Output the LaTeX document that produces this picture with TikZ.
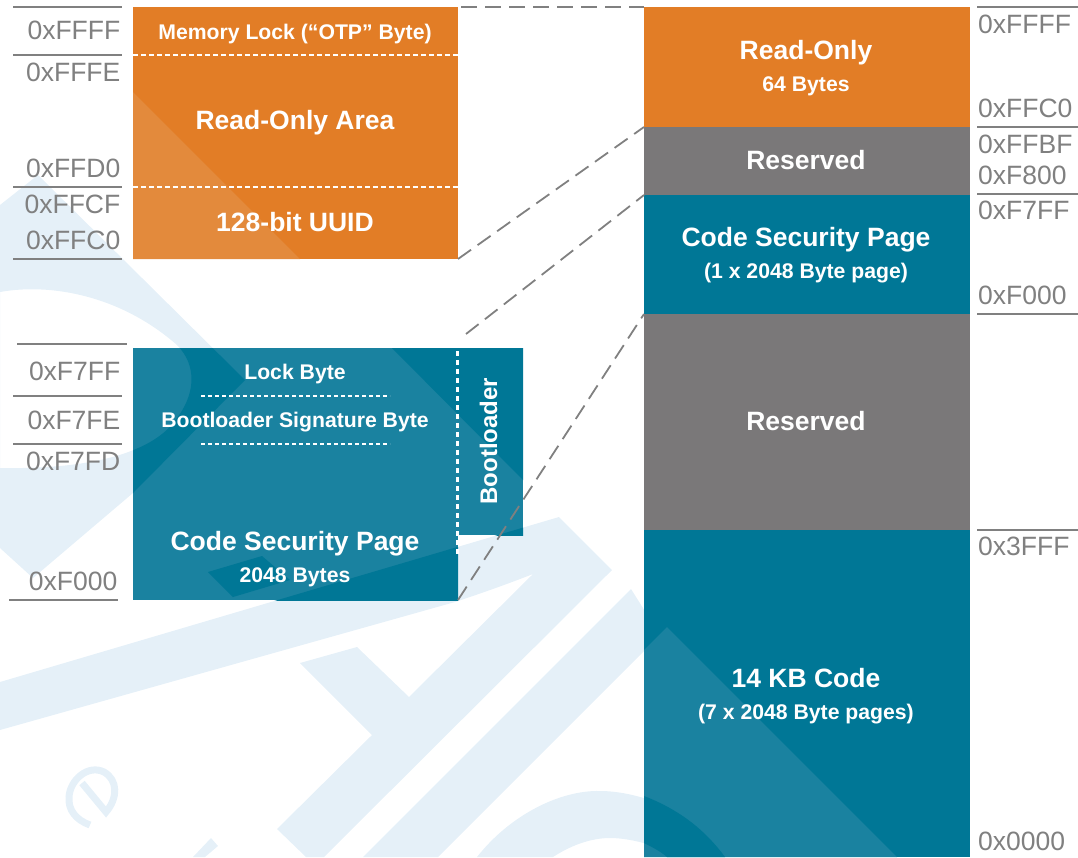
\documentclass[tikz,border=0pt]{standalone}
\usepackage{fontspec}
\setmainfont{Liberation Sans}
\definecolor{wm}{HTML}{E5F0F8}
\definecolor{org}{HTML}{E27D26}
\definecolor{orgl}{HTML}{E38A3C}
\definecolor{teal}{HTML}{007796}
\definecolor{teall}{HTML}{1A82A0}
\definecolor{gry}{HTML}{7A7879}
\definecolor{txg}{HTML}{808080}
\newcommand{\wmA}{(0,205) -- (38,175) -- (245,380) -- (133,493) -- (33,578) -- (0,548) -- cycle
  (0,292) .. controls (50,283) and (120,295) .. (177,345) .. controls (197,365) and (197,395) .. (173,423) .. controls (160,440) and (120,470) .. (0,468) -- cycle}
\newcommand{\wmB}{(0,682) -- (559,517) -- (612,570) -- (324,857) -- (306,857) -- (277,829) -- (372,735) -- (300,663) -- (357,647) -- (409,697) -- (533,574) .. controls (500,587) and (470,597) .. (455,602) -- (0,730) -- cycle}
\tikzset{
  x=1pt,y=-1pt,
  region/.style={inner sep=0pt,outer sep=0pt,minimum width=#1,draw=none},
  big/.style={font=\fontsize{26.5}{30}\selectfont\bfseries,text=white,inner sep=0pt,anchor=base},
  small/.style={font=\fontsize{21.2}{25}\selectfont\bfseries,text=white,inner sep=0pt,anchor=base},
  addrl/.style={font=\fontsize{26.5}{30}\selectfont,text=txg,inner sep=0pt,anchor=base east},
  addrr/.style={font=\fontsize{26.5}{30}\selectfont,text=txg,inner sep=0pt,anchor=base west},
  rule/.style={draw=txg,line width=1.9pt},
  link/.style={draw=txg,line width=1.8pt,dash pattern=on 16pt off 8pt},
  dots/.style={draw=white,line width=2.2pt,dash pattern=on 5pt off 3pt},
  vdots/.style={draw=white,line width=2.5pt,dash pattern=on 5pt off 4pt},
  fine/.style={draw=white,line width=1.9pt,dash pattern=on 4.2pt off 2.8pt},
}
\begin{document}
\begin{tikzpicture}
\useasboundingbox (0,0) rectangle (1078,857);
% watermark
\fill[wm,even odd rule] \wmA;
\fill[wm] \wmB;
\fill[wm] (631,589) -- (363,857) -- (438,857) -- (660,635) -- cycle;
\fill[wm] (477,857) .. controls (510,815) and (560,790) .. (600,791) .. controls (615,791) and (632,794) .. (650,800) -- (650,845) .. controls (635,840) and (620,838) .. (610,838) .. controls (590,838) and (570,846) .. (553,857) -- cycle;
\fill[wm] (193,857) -- (211,838) -- (218,846) -- (205,857) -- cycle;
\draw[wm,line width=7pt] (82,783) -- (106,812) .. controls (118,798) and (118,780) .. (104,772) .. controls (88,764) and (70,780) .. (69,797) .. controls (68,810) and (76,820) .. (90,825);
% left top block
\node[region=325pt,minimum height=252pt,fill=org] (otp) at (295.5,133) {};
\fill[orgl] (133,92) -- (300,259) -- (133,259) -- cycle;
\draw[dots] (133,55) -- (458,55);
\draw[dots] (133,187) -- (458,187);
% left lower block
\node[region=325pt,minimum height=252pt,fill=teall] (csp) at (295.5,474) {};
\node[region=65pt,minimum height=187pt,fill=teall] (boot) at (490.5,441.5) {};
\begin{scope}
\clip (133,348) rectangle (458,600);
\fill[teal,even odd rule] \wmA;
\fill[teal] \wmB;
\end{scope}
\begin{scope}
\clip (458,348) rectangle (523,535);
\fill[teal] \wmB;
\end{scope}
\fill[teal] (208,572) -- (262,556) -- (290,580) -- (233,597) -- cycle;
\fill[teal] (392,348) -- (523,480) -- (523,348) -- cycle;
\draw[fine] (201,396) -- (390,396);
\draw[fine] (201,444) -- (390,444);
\draw[vdots] (457.5,351) -- (457.5,556);
% right stack
\node[region=326pt,minimum height=120pt,fill=org] (ro) at (807,67) {};
\node[region=326pt,minimum height=68pt,fill=gry] (res1) at (807,161) {};
\node[region=326pt,minimum height=119pt,fill=teal] (sec) at (807,254.5) {};
\node[region=326pt,minimum height=216pt,fill=gry] (res2) at (807,422) {};
\node[region=326pt,minimum height=327pt,fill=teal] (code) at (807,693.5) {};
\fill[teall] (644,650) -- (667,627) -- (897,857) -- (644,857) -- cycle;
\fill[teal] (644,796) .. controls (680,810) and (705,830) .. (725,857) -- (667,857) .. controls (660,851) and (652,847) .. (644,843) -- cycle;
% connectors
\coordinate (free) at (466,334);
\draw[link,shorten <=3pt] (otp.north east) -- (ro.north west);
\draw[link] (otp.south east) -- (ro.south west);
\draw[link] (free) -- (sec.north west);
\draw[link] (csp.south east) -- (sec.south west);
% rules
\foreach \y in {7,55,187,259} \draw[rule] (13,\y) -- (122,\y);
\draw[rule] (17,344) -- (127,344);
\foreach \y in {396,444} \draw[rule] (13,\y) -- (122,\y);
\draw[rule] (9,600) -- (118,600);
\foreach \y in {7,127,194,314,530} \draw[rule] (977,\y) -- (1078,\y);
% left labels
\node[addrl] (a1) at (120.5,39) {0xFFFF};
\node[addrl] (a2) at (120.5,81) {0xFFFE};
\node[addrl] (a3) at (120.5,177) {0xFFD0};
\node[addrl] (a4) at (120.5,213) {0xFFCF};
\node[addrl] (a5) at (120.5,249) {0xFFC0};
\node[addrl] (a6) at (120.5,380) {0xF7FF};
\node[addrl] (a7) at (120.5,429) {0xF7FE};
\node[addrl] (a8) at (120.5,470) {0xF7FD};
\node[addrl] (a9) at (117.5,590) {0xF000};
% right labels
\node[addrr] (b1) at (978,33) {0xFFFF};
\node[addrr] (b2) at (978,117) {0xFFC0};
\node[addrr] (b3) at (978,153) {0xFFBF};
\node[addrr] (b4) at (978,184) {0xF800};
\node[addrr] (b5) at (978,219) {0xF7FF};
\node[addrr] (b6) at (978,304) {0xF000};
\node[addrr] (b7) at (978,555) {0x3FFF};
\node[addrr] (b8) at (978,850) {0x0000};
% block texts
\node[small] (t1) at (295,39) {Memory Lock (“OTP” Byte)};
\node[big] (t2) at (295,129) {Read-Only Area};
\node[big] (t3) at (295,231) {128-bit UUID};
\node[small] (t4) at (295,379) {Lock Byte};
\node[small] (t5) at (295,427) {Bootloader Signature Byte};
\node[big] (t6) at (295,550) {Code Security Page};
\node[small] (t7) at (295,582) {2048 Bytes};
\node[font=\fontsize{24}{28}\selectfont\bfseries,text=white,inner sep=0pt,rotate=90,anchor=base] (t8) at (497,441) {Bootloader};
\node[big] (t9) at (806,59) {Read-Only};
\node[small] (t10) at (806,91) {64 Bytes};
\node[big] (t11) at (806,169) {Reserved};
\node[big] (t12) at (806,246) {Code Security Page};
\node[small] (t13) at (806,278) {(1 x 2048 Byte page)};
\node[big] (t14) at (806,430) {Reserved};
\node[big] (t15) at (806,687) {14 KB Code};
\node[small] (t16) at (806,719) {(7 x 2048 Byte pages)};
\end{tikzpicture}
\end{document}
